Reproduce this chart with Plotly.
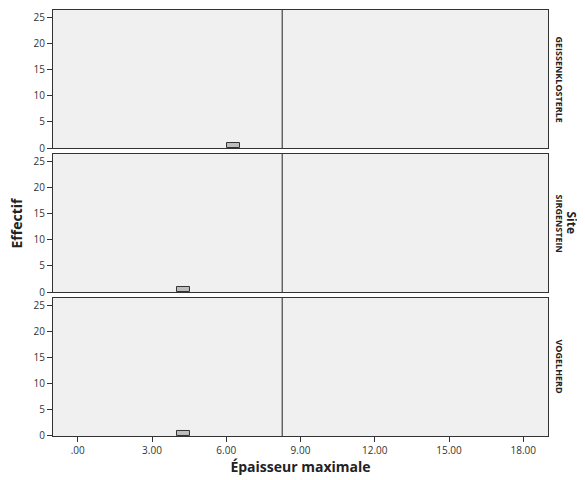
import plotly.graph_objects as go
from plotly.subplots import make_subplots

sites = ["GEISSENKLOSTERLE", "SIRGENSTEIN", "VOGELHERD"]
bin_centers = [[6.3], [4.27], [4.27]]
counts = [[1], [1], [1]]
bin_width = 0.53
reference_value = 8.26
x_ticks = [0, 3, 6, 9, 12, 15, 18]
x_tick_labels = [".00", "3.00", "6.00", "9.00", "12.00", "15.00", "18.00"]
y_ticks = [0, 5, 10, 15, 20, 25]

fig = make_subplots(rows=3, cols=1, shared_xaxes=True, vertical_spacing=0.014)

font_family = "Open Sans, DejaVu Sans, sans-serif"

for i, site in enumerate(sites):
    r = i + 1
    fig.add_trace(go.Bar(x=bin_centers[i], y=counts[i], width=bin_width,
                         marker=dict(color="#bdbdbd", line=dict(color="#333333", width=1)),
                         showlegend=False), row=r, col=1)
    fig.add_vline(x=reference_value, line=dict(color="#222222", width=1), row=r, col=1)
    fig.update_yaxes(range=[0, 26.5], tickvals=y_ticks, ticks="outside", ticklen=5,
                     tickcolor="#333333", showgrid=False, zeroline=False,
                     showline=True, linecolor="#333333", linewidth=1, mirror=True,
                     tickfont=dict(size=10, color="#333333", family=font_family), row=r, col=1)
    fig.update_xaxes(range=[-1, 19], tickvals=x_ticks, ticktext=x_tick_labels,
                     ticks="outside" if r == 3 else "", ticklen=5, tickcolor="#333333",
                     showticklabels=(r == 3), showgrid=False, zeroline=False,
                     showline=True, linecolor="#333333", linewidth=1, mirror=True,
                     tickfont=dict(size=10, color="#333333", family=font_family), row=r, col=1)

fig.update_xaxes(title=dict(text="Épaisseur maximale", standoff=3,
                            font=dict(size=14, color="#222222", family=font_family, weight="bold")),
                 row=3, col=1)

annotations = []
doms = [fig.layout.yaxis.domain, fig.layout.yaxis2.domain, fig.layout.yaxis3.domain]
for site, dom in zip(sites, doms):
    annotations.append(dict(x=1.0, xref="paper", xanchor="left", xshift=3,
                            y=(dom[0] + dom[1]) / 2, yref="paper", yanchor="middle",
                            text=site, textangle=90, showarrow=False,
                            font=dict(size=9, color="#222222", family=font_family, weight="bold")))
annotations.append(dict(x=1.0, xref="paper", xanchor="left", xshift=13,
                        y=0.5, yref="paper", yanchor="middle", text="Site", textangle=90,
                        showarrow=False,
                        font=dict(size=12, color="#222222", family=font_family, weight="bold")))
annotations.append(dict(x=0, xref="paper", xanchor="right", xshift=-26,
                        y=0.5, yref="paper", yanchor="middle", text="Effectif", textangle=-90,
                        showarrow=False,
                        font=dict(size=14, color="#222222", family=font_family, weight="bold")))

fig.update_layout(width=577, height=472, margin=dict(l=45, r=37, t=2, b=44, autoexpand=False),
                  paper_bgcolor="white", plot_bgcolor="#f0f0f0", bargap=0,
                  annotations=annotations)

fig.write_html("out.html")
